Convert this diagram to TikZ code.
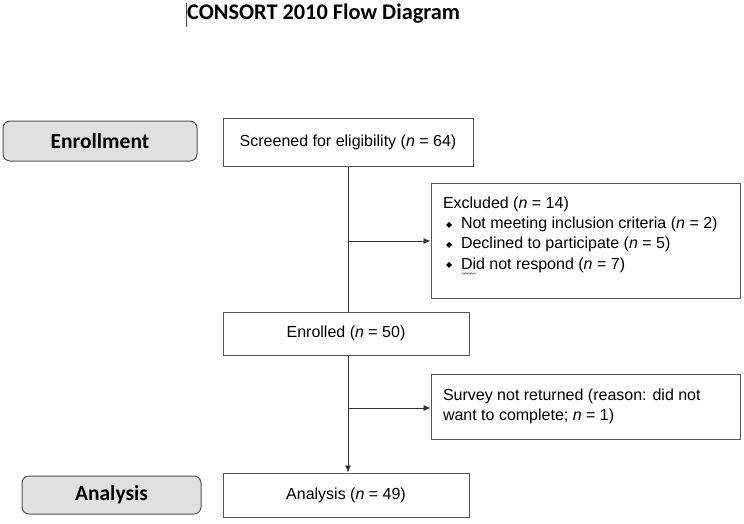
\documentclass[tikz,border=0pt]{standalone}
\usepackage{fontspec}
\setmainfont{Liberation Sans}
\newfontfamily\carl{Carlito}
\newfontfamily\dejavu{DejaVu Sans}
\usetikzlibrary{calc,decorations.pathmorphing,arrows.meta}
\definecolor{edge}{HTML}{555555}
\definecolor{labfill}{HTML}{E0E0E0}
\tikzset{
  box/.style={draw=edge, line width=1pt, fill=white, inner sep=0pt, font=\fontsize{16}{20.4}\selectfont},
  stage/.style={draw=edge, line width=1pt, fill=labfill, rounded corners=7pt, inner sep=0pt, font=\carl\bfseries\fontsize{21.5}{24}\selectfont},
  conn/.style={draw=black!80, line width=0.8pt},
  arr/.style={conn, -{Latex[length=7pt,width=6pt]}}
}
\newcommand{\bulitem}{\makebox[18pt][l]{\hspace{3pt}\raisebox{1.5pt}{\dejavu\fontsize{8}{8}\selectfont ◆}}}
\begin{document}
\begin{tikzpicture}[x=1pt,y=-1pt]
\useasboundingbox (0,0) rectangle (744,523);
% title
\node[anchor=west, inner sep=0pt, font=\carl\bfseries\fontsize{22.3}{26}\selectfont] (title) at (187,13.5) {CONSORT 2010 Flow Diagram};
\draw[black!70, line width=0.6pt] (186,3) -- (186,27);
% stage labels
\node[stage, minimum width=194pt, minimum height=40pt] (enr) at (100,141) {\raisebox{-1.5pt}{Enrollment}};
\node[stage, minimum width=179pt, minimum height=38pt] (ana) at (111.5,495) {\raisebox{-1.5pt}{Analysis}};
% boxes
\node[box, minimum width=250pt, minimum height=48pt] (scr) at (348,142) {Screened for eligibility (\textit{n} = 64)};
\node[box, minimum width=309pt, minimum height=115pt] (exc) at (585.5,240.5) {};
\node[box, anchor=north west, draw=none, fill=none, align=left] (exct) at ($(exc.north west)+(12,13.5)$)
  {Excluded (\textit{n} = 14)\\
   \bulitem Not meeting inclusion criteria (\textit{n} = 2)\\
   \bulitem Declined to participate (\textit{n} = 5)\\
   \bulitem Did not respond (\textit{n} = 7)};
\node[box, minimum width=246pt, minimum height=43pt] (enrl) at (346,333.5) {Enrolled (\textit{n} = 50)};
\node[box, minimum width=309pt, minimum height=65pt] (surv) at (585.5,406.5) {};
\node[box, anchor=north west, draw=none, fill=none, align=left] (survt) at ($(surv.north west)+(12,14.5)$)
  {Survey not returned (reason: did not\\ want to complete; \textit{n} = 1)};
\node[box, minimum width=246pt, minimum height=44pt] (anab) at (346,495) {Analysis (\textit{n} = 49)};
% spell-check squiggle under "Did"
\draw[black!60, line width=0.5pt, decorate, decoration={snake, amplitude=0.8pt, segment length=3pt}] (461.5,273.5) -- (476,273.5);
% connectors
\coordinate (b1) at (348,241);
\coordinate (b2) at (348,408);
\draw[conn] (scr.south) -- (scr.south |- enrl.north);
\draw[arr] (b1) -- (b1 -| exc.west);
\draw[arr] ($(enrl.south)+(2,0)$) -- ($(anab.north)+(2,0)$);
\draw[arr] (b2) -- (b2 -| surv.west);
\end{tikzpicture}
\end{document}
